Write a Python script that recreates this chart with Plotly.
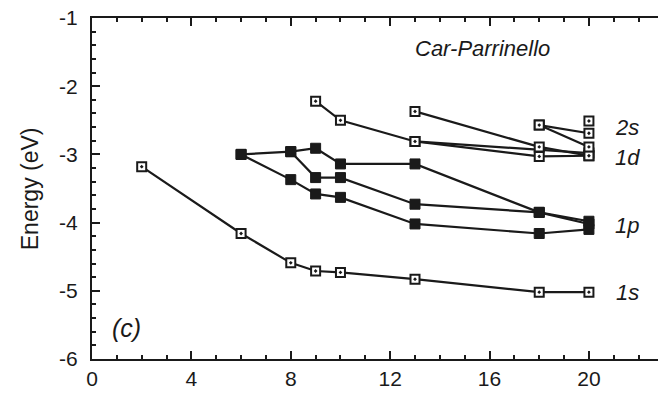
import plotly.graph_objects as go

# ---- data ----
# open-square series
s1s_x = [2, 6, 8, 9, 10, 13, 18, 20]
s1s_y = [-3.18, -4.16, -4.59, -4.71, -4.73, -4.83, -5.02, -5.02]

sB_x = [9, 10, 13, 18, 20]
sB_y = [-2.22, -2.50, -2.81, -3.03, -3.02]

sC_x = [13, 20]
sC_y = [-2.81, -2.98]

sD_x = [13, 18, 20]
sD_y = [-2.37, -2.89, -3.02]

sE_x = [18, 20]
sE_y = [-2.57, -2.69]

sF_x = [18, 20]
sF_y = [-2.57, -2.89]

sG_x = [20]
sG_y = [-2.51]

# filled-square series
sH_x = [6, 8, 9, 10, 13, 18, 20]
sH_y = [-3.00, -2.96, -2.91, -3.14, -3.14, -3.85, -3.98]

sI_x = [6, 8, 9, 10, 13, 18, 20]
sI_y = [-3.00, -3.37, -3.58, -3.63, -4.02, -4.16, -4.10]

sJ_x = [8, 9, 10, 13, 18, 20]
sJ_y = [-2.96, -3.34, -3.34, -3.73, -3.85, -4.02]

open_series = [(s1s_x, s1s_y), (sB_x, sB_y), (sC_x, sC_y), (sD_x, sD_y),
               (sE_x, sE_y), (sF_x, sF_y), (sG_x, sG_y)]
filled_series = [(sH_x, sH_y), (sI_x, sI_y), (sJ_x, sJ_y)]

level_labels = ["2s", "1d", "1p", "1s"]
level_label_y = [-2.60, -3.04, -4.04, -5.03]

x_tickvals = [0, 4, 8, 12, 16, 20]
x_ticktext = ["0", "4", "8", "12", "16", "20"]
y_tickvals = [-1, -2, -3, -4, -5, -6]
y_ticktext = ["-1", "-2", "-3", "-4", "-5", "-6"]

INK = "#1a1a1a"
FONT = "Liberation Sans"

fig = go.Figure()

# lines first
for xs, ys in open_series + filled_series:
    if len(xs) > 1:
        fig.add_trace(go.Scatter(x=xs, y=ys, mode="lines",
                                 line=dict(color=INK, width=2.2),
                                 showlegend=False, hoverinfo="skip"))

# markers on top
for xs, ys in filled_series:
    fig.add_trace(go.Scatter(x=xs, y=ys, mode="markers",
                             marker=dict(symbol="square", size=10, color=INK,
                                         line=dict(color=INK, width=1)),
                             showlegend=False))
for xs, ys in open_series:
    fig.add_trace(go.Scatter(x=xs, y=ys, mode="markers",
                             marker=dict(symbol="square-dot", size=9, color="white",
                                         line=dict(color=INK, width=2)),
                             showlegend=False))

for lab, ly in zip(level_labels, level_label_y):
    fig.add_annotation(x=21.55, y=ly, text=lab, showarrow=False,
                       xanchor="center", yanchor="middle",
                       font=dict(family=FONT, size=22, color=INK, style="italic"))

fig.add_annotation(x=15.7, y=-1.45, text="Car-Parrinello", showarrow=False,
                   xanchor="center", yanchor="middle",
                   font=dict(family=FONT, size=22, color=INK, style="italic"))
fig.add_annotation(x=1.4, y=-5.55, text="(c)", showarrow=False,
                   xanchor="center", yanchor="middle",
                   font=dict(family=FONT, size=25, color=INK, style="italic"))

fig.add_annotation(xref="paper", yref="paper", x=-0.110, y=0.5,
                   text="Energy (eV)", textangle=-90, showarrow=False,
                   xanchor="center", yanchor="middle",
                   font=dict(family=FONT, size=23, color=INK))

fig.update_xaxes(range=[0, 22.78], showline=True, linecolor=INK, linewidth=2,
                 mirror="ticks", ticks="inside", ticklen=8, tickwidth=2, tickcolor=INK,
                 tickvals=x_tickvals, ticktext=x_ticktext,
                 minor=dict(dtick=1, tick0=0, ticks="inside", ticklen=4, tickwidth=1.5,
                            tickcolor=INK, showgrid=False),
                 showgrid=False, zeroline=False,
                 tickfont=dict(family=FONT, size=21, color=INK))
fig.update_yaxes(range=[-6, -1], showline=True, linecolor=INK, linewidth=2,
                 mirror=False, ticks="inside", ticklen=8, tickwidth=2, tickcolor=INK,
                 tickvals=y_tickvals, ticktext=y_ticktext,
                 minor=dict(dtick=0.2, tick0=-6, ticks="inside", ticklen=4, tickwidth=1.5,
                            tickcolor=INK, showgrid=False),
                 showgrid=False, zeroline=False, ticklabelstandoff=8,
                 tickfont=dict(family=FONT, size=21, color=INK))

fig.update_layout(width=658, height=395,
                  margin=dict(l=92, r=0, t=18, b=36),
                  paper_bgcolor="white", plot_bgcolor="white",
                  showlegend=False)

fig.write_html("out.html")
